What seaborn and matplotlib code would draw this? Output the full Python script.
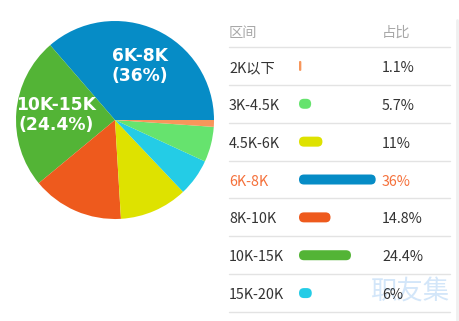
import matplotlib
matplotlib.use("Agg")
import matplotlib.pyplot as plt
import seaborn as sns
from matplotlib.patches import FancyBboxPatch
from matplotlib.lines import Line2D

sns.set_theme(style="white")
plt.rcParams['font.family'] = ['Noto Sans CJK SC', 'DejaVu Sans']

# data
categories = ["2K以下", "3K-4.5K", "4.5K-6K", "6K-8K", "8K-10K", "10K-15K", "15K-20K"]
values = [1.1, 5.7, 11, 36, 14.8, 24.4, 6]
pct_labels = ["1.1%", "5.7%", "11%", "36%", "14.8%", "24.4%", "6%"]
colors = ["#f7965b", "#66e36e", "#dee200", "#068cc6", "#ee5a1d", "#53b436", "#24cce6"]
highlight = "6K-8K"

W, H = 460, 321
fig = plt.figure(figsize=(W / 100, H / 100), dpi=100)

def fx(px):
    return px / W

def fy(py):
    return 1 - py / H

# ---- pie ----
cx, cy, r = 115, 120, 99
pax = fig.add_axes([fx(cx - r), fy(cy + r), 2 * r / W, 2 * r / H])
order = sorted(range(len(values)), key=lambda i: -values[i])
pv = [values[i] for i in order]
pc = [colors[i] for i in order]
wedges, _, autotexts = pax.pie(pv, colors=pc, startangle=0, counterclock=True,
                               autopct="%1.1f", pctdistance=0.6,
                               wedgeprops=dict(linewidth=0))
for k, i in enumerate(order):
    t = autotexts[k]
    if values[i] > 20:
        t.set_text(f"{categories[i]}\n({pct_labels[i]})")
        t.set_color("white")
        t.set_fontweight("bold")
        t.set_fontsize(12.3)
        t.set_family(["DejaVu Sans"])
        t.set_linespacing(1.1)
    else:
        t.set_text("")
pax.set_xlim(-1, 1)
pax.set_ylim(-1, 1)

# ---- table ----
line_y = [47 + 37.86 * k for k in range(8)]
row_c = [(line_y[k] + line_y[k + 1]) / 2 for k in range(7)]
text_c = "#333333"
hl_c = "#f5703a"
fs = 10.3

# watermark (behind)
fig.text(fx(410), fy(291), "职友集", color="#d3e6f9", fontsize=19, ha="center", va="center",
         zorder=0)

fig.text(fx(229), fy(33), "区间", color="#a8a8a8", fontsize=fs, va="center", ha="left")
fig.text(fx(382), fy(33), "占比", color="#a8a8a8", fontsize=fs, va="center", ha="left")
for y in line_y:
    fig.add_artist(Line2D([fx(229), fx(450)], [fy(y), fy(y)], color="#e3e3e3", lw=1))
fig.add_artist(Line2D([fx(457.5), fx(457.5)], [fy(20), fy(321)], color="#f0f0f0", lw=2))

for k, (c, p) in enumerate(zip(categories, pct_labels)):
    col = hl_c if c == highlight else text_c
    fig.text(fx(229), fy(row_c[k] + 2), c, color=col, fontsize=fs, va="center", ha="left")
    fig.text(fx(382), fy(row_c[k] + 2), p, color=col, fontsize=fs, va="center", ha="left")

# bars via seaborn on an axes aligned with rows
bx0, bx1 = 299, 449
scale = 2.13  # px per percent
bax = fig.add_axes([fx(bx0), fy(line_y[-1]), (bx1 - bx0) / W, (line_y[-1] - line_y[0]) / H])
bar_h_px = 10
row_px = 37.86
sns.barplot(x=values, y=categories, hue=categories, palette=colors, legend=False,
            orient="h", width=bar_h_px / row_px, ax=bax, saturation=1)
bax.set_xlim(0, (bx1 - bx0) / scale)
bax.set_ylim(6.5, -0.5)
bax.axis("off")
xu_per_px = 1 / scale
yu_per_px = 1 / row_px
ma = yu_per_px / xu_per_px
for patch in list(bax.patches):
    x, y = patch.get_x(), patch.get_y()
    w, h = patch.get_width(), patch.get_height()
    fc = patch.get_facecolor()
    patch.remove()
    rs = min(w, h / ma) / 2
    fb = FancyBboxPatch((x, y), w, h, boxstyle=f"round,pad=0,rounding_size={rs}",
                        mutation_aspect=ma, facecolor=fc, edgecolor="none")
    bax.add_patch(fb)

fig.savefig("out.png", dpi=100)
